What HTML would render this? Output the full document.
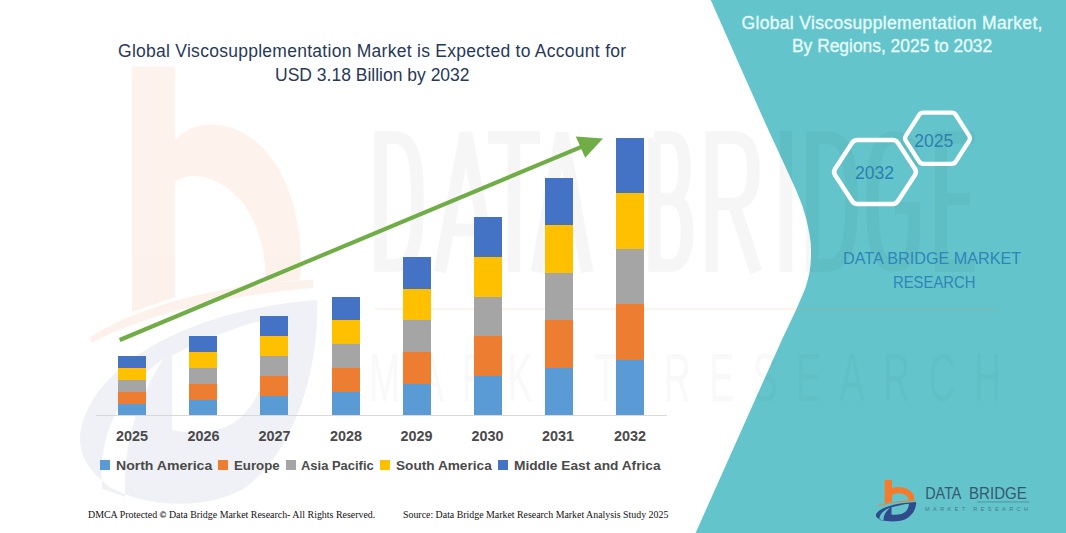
<!DOCTYPE html>
<html>
<head>
<meta charset="utf-8">
<title>Global Viscosupplementation Market</title>
<style>
html,body{margin:0;padding:0;}
body{width:1066px;height:533px;overflow:hidden;background:#ffffff;font-family:"Liberation Sans",sans-serif;}
#stage{position:relative;width:1066px;height:533px;overflow:hidden;background:#ffffff;}
.abs{position:absolute;}
.t{position:absolute;white-space:nowrap;line-height:1;transform-origin:0 0;}
.sans{font-family:"Liberation Sans",sans-serif;}
.serif{font-family:"Liberation Serif",serif;}
.title{font-size:17.5px;color:#27395a;}
.rtitle{font-size:17.5px;color:#e9fcfd;-webkit-text-stroke:0.3px #e9fcfd;}
.hex{font-size:17.6px;color:#2c7fb0;}
.dbmr{font-size:17.2px;color:#2f86b8;}
.yr{font-size:14.4px;font-weight:700;color:#4a4a4a;}
.lg{font-size:13.6px;font-weight:700;color:#4a4a4a;}
.ft{font-size:10px;color:#111111;}
.seg{position:absolute;width:28.2px;}
.c1{background:#5b9bd5;}
.c2{background:#ed7d31;}
.c3{background:#a5a5a5;}
.c4{background:#ffc000;}
.c5{background:#4472c4;}
.sq{position:absolute;width:10px;height:10px;top:460px;}
</style>
</head>
<body>
<div id="stage">

<!-- background shapes + watermark -->
<svg class="abs" style="left:0;top:0" width="1066" height="533" viewBox="0 0 1066 533">
  <!-- faint watermark logo on white -->
  <g transform="translate(57.1,5.05) scale(0.5756,1.0244)">
    <g opacity="0.09" fill="#f47b2c">
      <path d="M130 60 H205 V132 C240 108 330 108 385 160 C415 190 428 230 422 268 L360 272 C366 245 350 215 325 195 C290 170 240 160 205 172 V285 L130 300 Z"/>
      <path d="M55 325 C150 290 300 272 445 268 L445 276 C300 284 160 300 60 330 Z"/>
    </g>
    <path opacity="0.08" fill="#2f4b8b" fill-rule="evenodd" d="M40 425 C40 370 180 300 452 288 C455 350 420 430 330 470 C260 495 150 490 90 470 C55 455 40 440 40 425 Z M200 342 C260 325 320 312 378 305 C378 350 350 395 300 410 C270 418 230 418 200 415 Z M78 472 C70 420 110 375 185 345 C140 385 115 425 118 480 Z"/>
  </g>
  <!-- teal panel -->
  <path d="M710.8 0 L737.2 60 L768.4 130 L782.3 160 L789.2 175 L796 190 L802.1 205 L806.6 220 L809.6 235 L810.7 243 L811 250 L811 257 L810.5 265 L809.4 273 L807.7 280 L805.4 288 L802.5 295 L796 310 L781.8 340 L695.6 533 L1066 533 L1066 0 Z" fill="#63c5cb"/>
  <!-- watermark text (very faint) -->
  <g fill="none" stroke="#000000" stroke-width="12.500" opacity="0.032" stroke-linejoin="miter">
    <!-- D -->
    <path d="M380.5 137.500 V265.500 H394 C412 265.500 417.500 248 417.500 201.500 C417.500 155 412 137.500 394 137.500 Z"/>
    <!-- A -->
    <path d="M440 272 L466 133 L492 272 M449 230 H483"/>
    <!-- T -->
    <path d="M488 137.500 H540 M514 137.500 V272"/>
    <!-- A -->
    <path d="M537 272 L562 133 L587 272 M546 230 H578"/>
    <!-- B -->
    <path d="M654.500 137.500 V265.500 H670 C682 265.500 687 252 687 232 C687 212 682 199 670 199 H654.500 M670 199 C680 199 684.500 188 684.500 168 C684.500 148 680 137.500 670 137.500 H654.500"/>
    <!-- R -->
    <path d="M711.500 272 V137.500 H734 C748 137.500 753.500 150 753.500 171 C753.500 192 748 204 734 204 H711.500 M734 204 L756 272"/>
    <!-- I -->
    <path d="M786 131 V272"/>
    <!-- D -->
    <path d="M812.500 137.500 V265.500 H826 C845 265.500 851.500 248 851.500 201.500 C851.500 155 845 137.500 826 137.500 Z"/>
    <!-- G -->
    <path d="M914 166 C914 146 907 137.500 894 137.500 C878 137.500 872.500 156 872.500 201.500 C872.500 247 878 265.500 894 265.500 C907 265.500 914 254 914 234 V208 H895"/>
    <!-- E -->
    <path d="M975 137.500 H941 V265.500 H975 M941 199 H970"/>
  </g>
  <g fill="#000000" opacity="0.02" font-family="Liberation Sans, sans-serif">
    <text transform="translate(369,401) scale(0.55,1)" x="0" y="0" font-size="68" textLength="1149" lengthAdjust="spacing">MARKET RESEARCH</text>
  </g>
  <rect x="375" y="308" width="625" height="2" fill="#f08a4b" opacity="0.10"/>
</svg>

<!-- left title -->
<div class="t sans title" id="t1" style="left:118px;top:43.2px;letter-spacing:0.27px;">Global Viscosupplementation Market is Expected to Account for</div>
<div class="t sans title" id="t2" style="left:275px;top:66.7px;">USD 3.18 Billion by 2032</div>

<!-- chart bars -->
<div id="bars">
  <!-- 2025 -->
  <div class="seg c5" style="left:118px;top:356px;height:12px"></div>
  <div class="seg c4" style="left:118px;top:368px;height:12px"></div>
  <div class="seg c3" style="left:118px;top:380px;height:12px"></div>
  <div class="seg c2" style="left:118px;top:392px;height:12px"></div>
  <div class="seg c1" style="left:118px;top:404px;height:11px"></div>
  <!-- 2026 -->
  <div class="seg c5" style="left:189.2px;top:336px;height:16px"></div>
  <div class="seg c4" style="left:189.2px;top:352px;height:16px"></div>
  <div class="seg c3" style="left:189.2px;top:368px;height:16px"></div>
  <div class="seg c2" style="left:189.2px;top:384px;height:16px"></div>
  <div class="seg c1" style="left:189.2px;top:400px;height:15px"></div>
  <!-- 2027 -->
  <div class="seg c5" style="left:260.3px;top:316px;height:20px"></div>
  <div class="seg c4" style="left:260.3px;top:336px;height:20px"></div>
  <div class="seg c3" style="left:260.3px;top:356px;height:20px"></div>
  <div class="seg c2" style="left:260.3px;top:376px;height:20px"></div>
  <div class="seg c1" style="left:260.3px;top:396px;height:19px"></div>
  <!-- 2028 -->
  <div class="seg c5" style="left:331.8px;top:297px;height:23px"></div>
  <div class="seg c4" style="left:331.8px;top:320px;height:24px"></div>
  <div class="seg c3" style="left:331.8px;top:344px;height:24px"></div>
  <div class="seg c2" style="left:331.8px;top:368px;height:24px"></div>
  <div class="seg c1" style="left:331.8px;top:392px;height:23px"></div>
  <!-- 2029 -->
  <div class="seg c5" style="left:403px;top:257px;height:32px"></div>
  <div class="seg c4" style="left:403px;top:289px;height:31px"></div>
  <div class="seg c3" style="left:403px;top:320px;height:32px"></div>
  <div class="seg c2" style="left:403px;top:352px;height:32px"></div>
  <div class="seg c1" style="left:403px;top:384px;height:31px"></div>
  <!-- 2030 -->
  <div class="seg c5" style="left:474px;top:217px;height:40px"></div>
  <div class="seg c4" style="left:474px;top:257px;height:40px"></div>
  <div class="seg c3" style="left:474px;top:297px;height:39px"></div>
  <div class="seg c2" style="left:474px;top:336px;height:40px"></div>
  <div class="seg c1" style="left:474px;top:376px;height:39px"></div>
  <!-- 2031 -->
  <div class="seg c5" style="left:545px;width:28px;top:178px;height:47px"></div>
  <div class="seg c4" style="left:545px;width:28px;top:225px;height:48px"></div>
  <div class="seg c3" style="left:545px;width:28px;top:273px;height:47px"></div>
  <div class="seg c2" style="left:545px;width:28px;top:320px;height:48px"></div>
  <div class="seg c1" style="left:545px;width:28px;top:368px;height:47px"></div>
  <!-- 2032 -->
  <div class="seg c5" style="left:616px;width:28px;top:138px;height:55px"></div>
  <div class="seg c4" style="left:616px;width:28px;top:193px;height:56px"></div>
  <div class="seg c3" style="left:616px;width:28px;top:249px;height:55px"></div>
  <div class="seg c2" style="left:616px;width:28px;top:304px;height:56px"></div>
  <div class="seg c1" style="left:616px;width:28px;top:360px;height:55px"></div>
</div>
<!-- axis line -->
<div class="abs" style="left:96px;top:415px;width:571px;height:1px;background:#d9d9d9;"></div>

<!-- arrow -->
<svg class="abs" style="left:0;top:0" width="1066" height="533" viewBox="0 0 1066 533">
  <line x1="119.7" y1="340" x2="582" y2="146.6" stroke="#70ad47" stroke-width="4.1"/>
  <polygon points="603,138.6 575.8,136.4 585.2,157.8" fill="#70ad47"/>
</svg>

<!-- year labels -->
<div class="t sans yr" style="left:116px;top:429px;">2025</div>
<div class="t sans yr" style="left:187.5px;top:429px;">2026</div>
<div class="t sans yr" style="left:258.5px;top:429px;">2027</div>
<div class="t sans yr" style="left:330px;top:429px;">2028</div>
<div class="t sans yr" style="left:400.5px;top:429px;">2029</div>
<div class="t sans yr" style="left:471.5px;top:429px;">2030</div>
<div class="t sans yr" style="left:542px;top:429px;">2031</div>
<div class="t sans yr" style="left:614px;top:429px;">2032</div>

<!-- legend -->
<div class="sq c1" style="left:100px;"></div>
<div class="t sans lg" id="l1" style="left:116px;top:458.5px;transform:scaleX(1.033);">North America</div>
<div class="sq c2" style="left:218px;"></div>
<div class="t sans lg" id="l2" style="left:234px;top:458.5px;transform:scaleX(0.974);">Europe</div>
<div class="sq c3" style="left:286px;"></div>
<div class="t sans lg" id="l3" style="left:301px;top:458.5px;transform:scaleX(0.953);">Asia Pacific</div>
<div class="sq c4" style="left:380px;"></div>
<div class="t sans lg" id="l4" style="left:395.5px;top:458.5px;transform:scaleX(1.003);">South America</div>
<div class="sq c5" style="left:497.5px;"></div>
<div class="t sans lg" id="l5" style="left:513.5px;top:458.5px;transform:scaleX(1.009);">Middle East and Africa</div>

<!-- footer -->
<div class="t serif ft" id="f1" style="left:88px;top:509.5px;transform:scaleX(0.992);">DMCA Protected <span style="font-family:'Liberation Sans',sans-serif;font-size:8.8px;font-weight:700;letter-spacing:0.4px;">©</span> Data Bridge Market Research- All Rights Reserved.</div>
<div class="t serif ft" id="f2" style="left:402.5px;top:509.5px;transform:scaleX(0.987);">Source: Data Bridge Market Research Market Analysis Study 2025</div>

<!-- right panel title -->
<div class="t sans rtitle" id="r1" style="left:741.5px;top:15px;letter-spacing:0.335px;">Global Viscosupplementation Market,</div>
<div class="t sans rtitle" id="r2" style="left:791.8px;top:37.9px;transform:scaleX(0.994);">By Regions, 2025 to 2032</div>

<!-- hexagons -->
<svg class="abs" style="left:0;top:0" width="1066" height="533" viewBox="0 0 1066 533">
  <path d="M835.16 175.29 A6 6 0 0 1 835.15 168.71 L852.22 142.62 A6 6 0 0 1 857.24 139.90 L892.76 139.90 A6 6 0 0 1 897.78 142.62 L914.85 168.71 A6 6 0 0 1 914.84 175.29 L897.78 201.29 A6 6 0 0 1 892.76 204.00 L857.24 204.00 A6 6 0 0 1 852.22 201.29 Z" fill="none" stroke="#ffffff" stroke-width="4.5" stroke-linejoin="round"/>
  <path d="M905.94 141.00 A5 5 0 0 1 905.93 135.60 L919.12 115.00 A5 5 0 0 1 923.33 112.70 L951.67 112.70 A5 5 0 0 1 955.88 115.00 L969.07 135.60 A5 5 0 0 1 969.06 141.00 L955.88 161.50 A5 5 0 0 1 951.67 163.80 L923.33 163.80 A5 5 0 0 1 919.12 161.50 Z" fill="none" stroke="#ffffff" stroke-width="4.2" stroke-linejoin="round"/>
</svg>
<div class="t sans hex" id="h1" style="left:855px;top:164.8px;">2032</div>
<div class="t sans hex" id="h2" style="left:914.2px;top:132.7px;">2025</div>

<!-- DBMR text -->
<div class="t sans dbmr" id="d1" style="left:843px;top:250.1px;transform:scaleX(0.941);">DATA BRIDGE MARKET</div>
<div class="t sans dbmr" id="d2" style="left:893.3px;top:274.1px;transform:scaleX(0.863);">RESEARCH</div>

<!-- logo -->
<svg class="abs" style="left:0;top:0" width="1066" height="533" viewBox="0 0 1066 533">
  <!-- logo icon -->
  <g transform="translate(872,474) scale(0.09756)">
    <g fill="#f47b2c">
      <path d="M130 62 H205 V150 C240 125 330 125 395 175 C425 200 440 235 432 268 L372 272 C378 245 360 222 330 208 C290 190 240 195 205 215 V285 L130 300 Z"/>
      <path d="M55 325 C150 290 300 272 445 268 L445 276 C300 284 160 300 60 330 Z"/>
    </g>
    <path fill="#2f4b8b" fill-rule="evenodd" d="M40 425 C40 370 180 300 452 288 C455 350 420 430 330 470 C260 495 150 490 90 470 C55 455 40 440 40 425 Z M200 342 C260 325 320 312 378 305 C378 350 350 395 300 410 C270 418 230 418 200 415 Z M78 472 C70 420 110 375 185 345 C140 385 115 425 118 480 Z"/>
  </g>
  <!-- text -->
  <g fill="#38576f" font-family="Liberation Sans, sans-serif">
    <text x="925.2" y="498.8" font-size="17.3" textLength="36.3" lengthAdjust="spacingAndGlyphs">DATA</text>
    <text x="969" y="498.8" font-size="17.3" textLength="57.8" lengthAdjust="spacingAndGlyphs">BRIDGE</text>
    <text x="925" y="510.7" font-size="5.6" textLength="103" lengthAdjust="spacing" fill="#43697f" opacity="0.8">MARKET RESEARCH</text>
  </g>
  <rect x="977.2" y="501.5" width="52.2" height="0.9" fill="#3e6077" opacity="0.55"/>
</svg>

</div>
</body>
</html>
